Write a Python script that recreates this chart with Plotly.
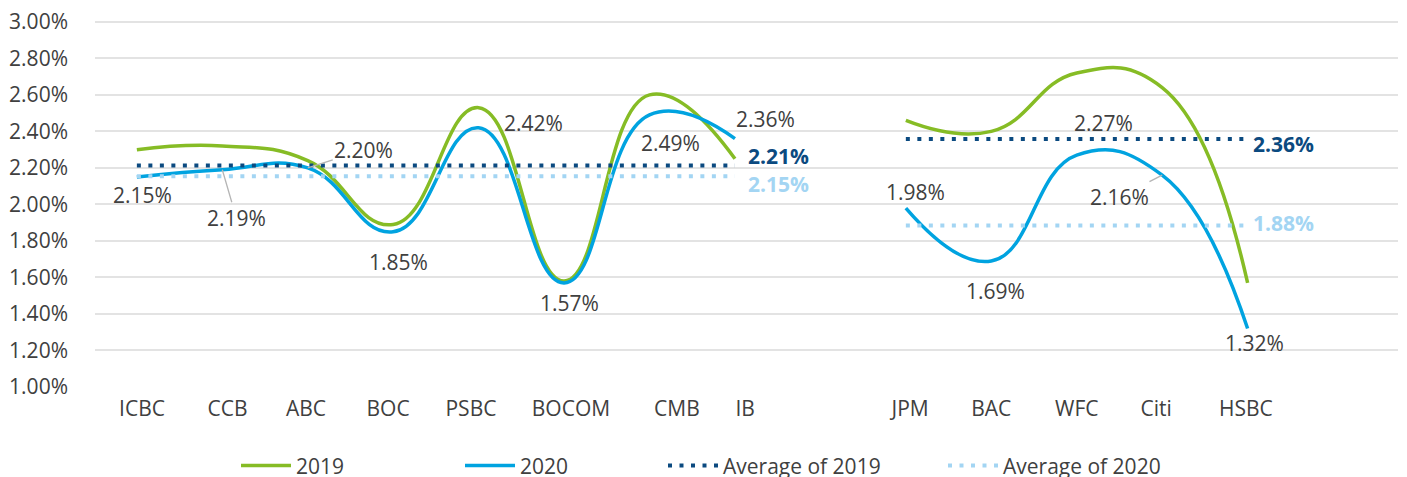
import numpy as np
import plotly.graph_objects as go

# ---------------- data ----------------
categories = ["ICBC", "CCB", "ABC", "BOC", "PSBC", "BOCOM", "CMB", "IB", "",
              "JPM", "BAC", "WFC", "Citi", "HSBC"]
nim_2019 = [2.30, 2.32, 2.24, 1.89, 2.53, 1.58, 2.60, 2.25, None,
            2.46, 2.40, 2.72, 2.64, 1.57]
nim_2020 = [2.15, 2.19, 2.20, 1.85, 2.42, 1.57, 2.49, 2.36, None,
            1.98, 1.69, 2.27, 2.16, 1.32]
group_cn = list(range(0, 8))
group_us = list(range(9, 14))

# ---------------- styles / layout helpers ----------------
GREEN = "#86BC25"
BLUE = "#00A3E0"
NAVY = "#0B4A80"
LIGHT = "#A3D5F3"
TXT = "#404040"
GRID = "#E3E3E3"
FONT = "Open Sans"
FS = 21

# tick label positions (category index units)
tick_pos = [0.06, 1.06, 1.98, 2.94, 3.91, 5.08, 6.32, 7.12, None, 9.05, 10.0, 11.0, 11.93, 12.98]

# label offsets for 2020 values: (xshift, yshift) or arrow (ax, ay)
label_cfg = {
    0: ("shift", 6, -18),
    1: ("arrow", 14, 48),
    2: ("arrow", 56, -18),
    3: ("shift", 5, -30),
    4: ("shift", 55, 5),
    5: ("shift", 5, -20),
    6: ("shift", 21, -28),
    7: ("shift", 31, 20),
    9: ("shift", 10, 16),
    10: ("shift", 4, -30),
    11: ("shift", 27, 32),
    12: ("arrow", -43, 22),
    13: ("shift", 7, -14),
}

x_idx = list(range(len(categories)))

fig = go.Figure()

fig.add_trace(go.Scatter(
    x=x_idx, y=nim_2019, mode="lines", name="2019",
    line=dict(color=GREEN, width=3.5, shape="spline", smoothing=1.3),
    connectgaps=False, legend="legend"))
fig.add_trace(go.Scatter(
    x=x_idx, y=nim_2020, mode="lines", name="2020",
    line=dict(color=BLUE, width=3.5, shape="spline", smoothing=1.3),
    connectgaps=False, legend="legend2"))

def group_avg(values, idx):
    return float(np.mean([values[i] for i in idx]))

avg19 = {g: group_avg(nim_2019, idx) for g, idx in (("cn", group_cn), ("us", group_us))}
avg20 = {g: group_avg(nim_2020, idx) for g, idx in (("cn", group_cn), ("us", group_us))}

def avg_series(avgs):
    ys = [None] * len(categories)
    for i in group_cn:
        ys[i] = avgs["cn"]
    for i in group_us:
        ys[i] = avgs["us"]
    return ys

fig.add_trace(go.Scatter(
    x=x_idx, y=avg_series(avg19), mode="lines", name="Average of 2019",
    line=dict(color=NAVY, width=4, dash="4px,7.5px"),
    connectgaps=False, legend="legend3"))
fig.add_trace(go.Scatter(
    x=x_idx, y=avg_series(avg20), mode="lines", name="Average of 2020",
    line=dict(color=LIGHT, width=4, dash="4px,7.5px"),
    connectgaps=False, legend="legend4"))

annotations = []
for i, cfg in label_cfg.items():
    v = nim_2020[i]
    kind, a, b = cfg
    base = dict(x=i, y=v, xref="x", yref="y", text=f"{v:.2f}%",
                font=dict(family=FONT, size=FS, color=TXT))
    if kind == "shift":
        base.update(showarrow=False, xshift=a, yshift=b)
    else:
        base.update(showarrow=True, ax=a, ay=b, arrowhead=0, arrowwidth=1.3,
                    arrowcolor="#B5B5B5", standoff=0, startstandoff=0)
    annotations.append(base)

# average labels
for grp, last, sh19, sh20 in (("cn", group_cn[-1], (44, 9), (44, -8)),
                              ("us", group_us[-1], (36, -4.5), (36, 2.5))):
    annotations.append(dict(x=last, y=avg19[grp], xref="x", yref="y",
                            text=f"<b>{avg19[grp]:.2f}%</b>", showarrow=False,
                            xshift=sh19[0], yshift=sh19[1],
                            font=dict(family=FONT, size=FS, color=NAVY)))
    annotations.append(dict(x=last, y=avg20[grp], xref="x", yref="y",
                            text=f"<b>{avg20[grp]:.2f}%</b>", showarrow=False,
                            xshift=sh20[0], yshift=sh20[1],
                            font=dict(family=FONT, size=FS, color=LIGHT)))

tv = [p for p in tick_pos if p is not None]
tt = [c for c, p in zip(categories, tick_pos) if p is not None]
y_ticks = [1.0, 1.2, 1.4, 1.6, 1.8, 2.0, 2.2, 2.4, 2.6, 2.8, 3.0]

legend_common = dict(orientation="h", xref="container", yref="container",
                     yanchor="middle", xanchor="left", y=0.04,
                     bgcolor="rgba(0,0,0,0)", itemwidth=50,
                     font=dict(family=FONT, size=FS, color=TXT))

fig.update_layout(
    width=1407, height=477,
    margin=dict(l=87, r=17, t=12, b=98),
    paper_bgcolor="white", plot_bgcolor="white",
    font=dict(family=FONT, size=FS, color=TXT),
    xaxis=dict(range=[-0.49, 14.76], tickvals=tv, ticktext=tt,
               showgrid=False, zeroline=False, showline=False,
               ticks="", ticklabelstandoff=7, automargin=False,
               tickfont=dict(family=FONT, size=FS, color=TXT)),
    yaxis=dict(range=[1.0, 3.01], tickvals=y_ticks,
               ticktext=[f"{v:.2f}%" for v in y_ticks],
               showgrid=True, gridcolor=GRID, gridwidth=1.5,
               zeroline=False, showline=False, ticks="", ticklabelstandoff=26,
               automargin=False, ticklabeloverflow="allow",
               tickfont=dict(family=FONT, size=FS, color=TXT)),
    showlegend=True,
    legend=dict(legend_common, x=228 / 1407),
    legend2=dict(legend_common, x=452 / 1407),
    legend3=dict(legend_common, x=655 / 1407),
    legend4=dict(legend_common, x=935 / 1407),
    annotations=annotations,
)

fig.write_html("out.html")
